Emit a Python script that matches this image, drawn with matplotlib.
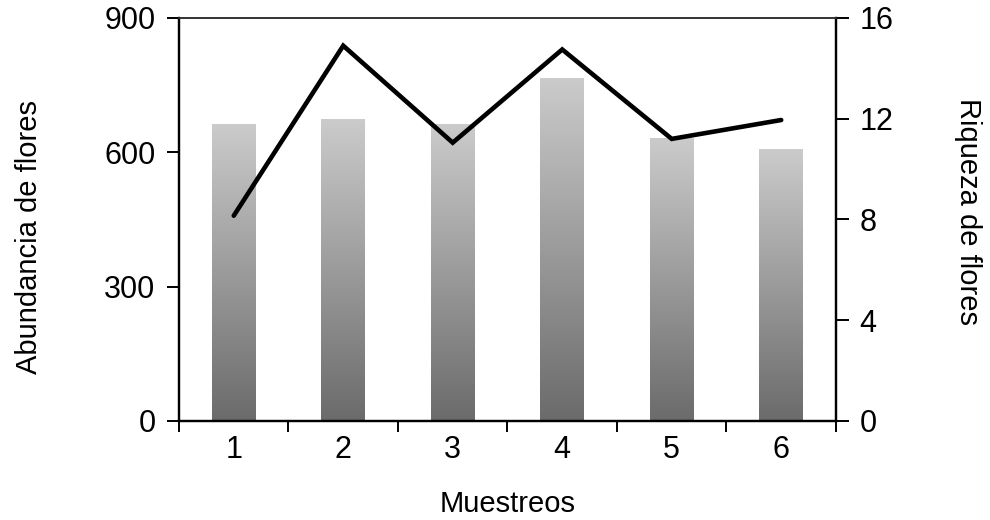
import matplotlib.pyplot as plt
import numpy as np
from matplotlib.colors import LinearSegmentedColormap

plt.rcParams['font.family'] = ['Liberation Sans', 'DejaVu Sans']

muestreos = [1, 2, 3, 4, 5, 6]
abundancia = [663, 674, 663, 764, 630, 607]
riqueza = [8.15, 14.9, 11.05, 14.75, 11.2, 11.95]

BAR_WIDTH = 0.4
grey_ramp = LinearSegmentedColormap.from_list('grey_ramp', ['#6b6b6b', '#cbcbcb'])

fig = plt.figure(figsize=(9.9, 5.2), dpi=100)
ax = fig.add_axes([0.1808, 0.1904, 0.6636, 0.775])
ax2 = ax.twinx()

# bars with a vertical grey gradient (dark at the base, light at the top)
grad = np.linspace(0, 1, 256).reshape(-1, 1)
for x, h in zip(muestreos, abundancia):
    ax.imshow(grad, cmap=grey_ramp, origin='lower', aspect='auto',
              extent=(x - BAR_WIDTH / 2, x + BAR_WIDTH / 2, 0, h), zorder=2)

ax2.plot(muestreos, riqueza, color='black', lw=3.3, solid_capstyle='round',
         solid_joinstyle='miter', zorder=3)

ax.set_xlim(0.5, 6.5)
ax.set_ylim(0, 900)
ax.set_yticks([0, 300, 600, 900])
ax.set_xticks(muestreos)
ax.set_xticks(np.arange(0.5, 7, 1), minor=True)
ax2.set_ylim(0, 16)
ax2.set_yticks([0, 4, 8, 12, 16])

for a in (ax, ax2):
    for side in ('left', 'right', 'bottom'):
        a.spines[side].set_linewidth(1.6)
    a.spines['top'].set_linewidth(1.2)
    a.spines['top'].set_color('#333333')

ax.tick_params(axis='y', direction='out', length=9, width=1.4, labelsize=22, pad=8)
ax2.tick_params(axis='y', direction='out', length=9, width=1.4, labelsize=22, pad=8)
ax.tick_params(axis='x', which='major', length=0, labelsize=22, pad=10)
ax.tick_params(axis='x', which='minor', direction='out', length=8, width=1.4)

ax.set_xlabel('Muestreos', fontsize=21, labelpad=18)
ax.set_ylabel('Abundancia de flores', fontsize=21, labelpad=44)
ax.yaxis.label.set_y(0.457)
ax2.set_ylabel('Riqueza de flores', fontsize=21, rotation=270, labelpad=64)
ax2.yaxis.label.set_y(0.519)

fig.savefig('out.png', dpi=100)
